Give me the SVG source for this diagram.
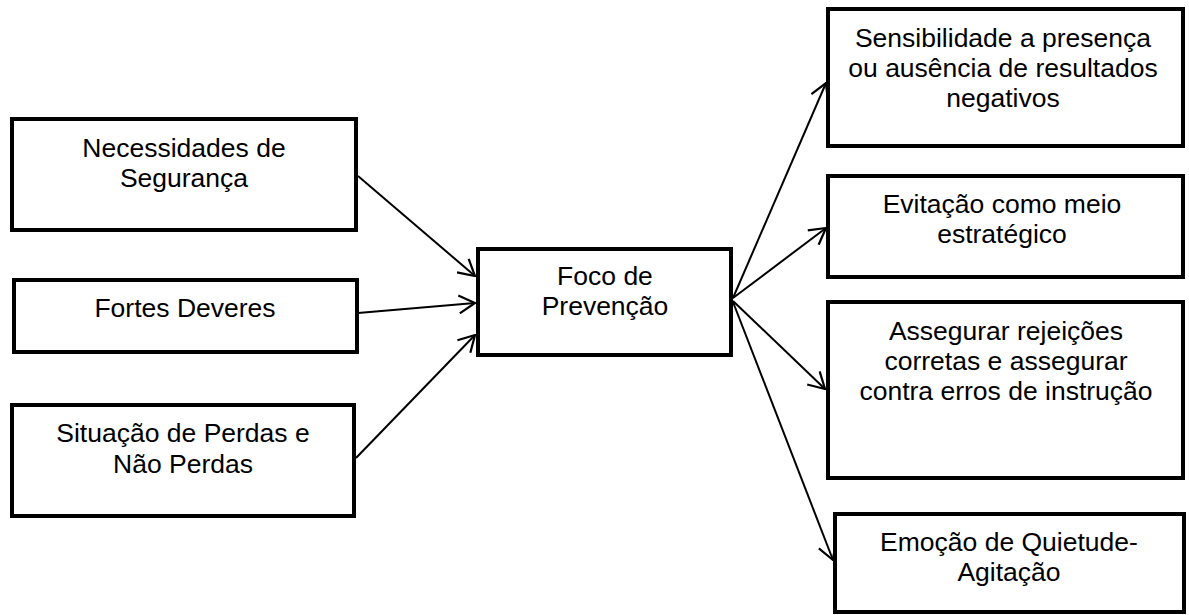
<svg xmlns="http://www.w3.org/2000/svg" width="1189" height="615" viewBox="0 0 1189 615">
<style>
  .box { fill: #ffffff; stroke: #000000; stroke-width: 4; }
  .lbl { font-family: "Liberation Sans", Arial, sans-serif; font-size: 26.5px; fill: #000000; text-anchor: middle; }
  .conn { stroke: #000000; stroke-width: 2; fill: none; marker-end: url(#arrow); }
</style>
<defs>
  <marker id="arrow" viewBox="0 0 18 20" refX="17" refY="10" markerWidth="18" markerHeight="20" markerUnits="userSpaceOnUse" orient="auto">
    <path d="M1,1 L17,10 L1,19" fill="none" stroke="#000000" stroke-width="2.2"/>
  </marker>
</defs>
<rect width="1189" height="615" fill="#ffffff"/>
<g id="connectors">
  <line class="conn" x1="358" y1="176" x2="475" y2="276"/>
  <line class="conn" x1="358" y1="313" x2="475" y2="303"/>
  <line class="conn" x1="356" y1="458" x2="475" y2="335"/>
  <line class="conn" x1="733" y1="298" x2="826" y2="83"/>
  <line class="conn" x1="733" y1="298" x2="826" y2="228"/>
  <line class="conn" x1="733" y1="301" x2="825" y2="389"/>
  <line class="conn" x1="733" y1="302" x2="833" y2="560"/>
</g>
<g id="necessidades">
  <rect class="box" x="12" y="119" width="344" height="111"/>
  <text class="lbl" x="184" y="157">Necessidades de</text>
  <text class="lbl" x="184" y="187">Segurança</text>
</g>
<g id="fortes">
  <rect class="box" x="14" y="280" width="343" height="72"/>
  <text class="lbl" x="185" y="317">Fortes Deveres</text>
</g>
<g id="situacao">
  <rect class="box" x="12" y="405" width="342" height="111"/>
  <text class="lbl" x="183" y="442">Situação de Perdas e</text>
  <text class="lbl" x="183" y="473">Não Perdas</text>
</g>
<g id="foco">
  <rect class="box" x="478" y="249" width="253" height="106"/>
  <text class="lbl" x="605" y="285">Foco de</text>
  <text class="lbl" x="605" y="315">Prevenção</text>
</g>
<g id="sensibilidade">
  <rect class="box" x="828" y="9" width="355" height="137"/>
  <text class="lbl" x="1003" y="47">Sensibilidade a presença</text>
  <text class="lbl" x="1003" y="77">ou ausência de resultados</text>
  <text class="lbl" x="1003" y="107">negativos</text>
</g>
<g id="evitacao">
  <rect class="box" x="828" y="176" width="355" height="101"/>
  <text class="lbl" x="1002" y="213">Evitação como meio</text>
  <text class="lbl" x="1002" y="243">estratégico</text>
</g>
<g id="assegurar">
  <rect class="box" x="828" y="302" width="355" height="176"/>
  <text class="lbl" x="1006" y="340">Assegurar rejeições</text>
  <text class="lbl" x="1006" y="370">corretas e assegurar</text>
  <text class="lbl" x="1006" y="400">contra erros de instrução</text>
</g>
<g id="emocao">
  <rect class="box" x="835" y="514" width="349" height="98"/>
  <text class="lbl" x="1009" y="551">Emoção de Quietude-</text>
  <text class="lbl" x="1009" y="581">Agitação</text>
</g>
</svg>
